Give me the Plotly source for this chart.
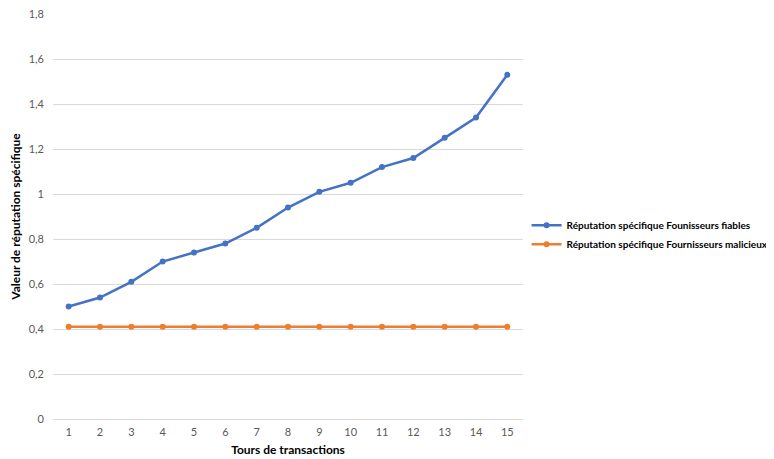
import plotly.graph_objects as go

# Data
tours = [str(i) for i in range(1, 16)]
fiables = [0.50, 0.54, 0.61, 0.70, 0.74, 0.78, 0.85, 0.94, 1.01, 1.05, 1.12, 1.16, 1.25, 1.34, 1.53]
malicieux = [0.41] * 15
y_ticks = [0, 0.2, 0.4, 0.6, 0.8, 1, 1.2, 1.4, 1.6, 1.8]
y_labels = ["0", "0,2", "0,4", "0,6", "0,8", "1", "1,2", "1,4", "1,6", "1,8"]

fig = go.Figure()
fig.add_trace(go.Scatter(
    x=tours, y=fiables, mode="lines+markers",
    name="<b>Réputation spécifique Founisseurs fiables</b>",
    line=dict(color="#4472C4", width=2.5), marker=dict(size=6, color="#4472C4"),
))
fig.add_trace(go.Scatter(
    x=tours, y=malicieux, mode="lines+markers",
    name="<b>Réputation spécifique Fournisseurs malicieux</b>",
    line=dict(color="#ED7D31", width=2.5), marker=dict(size=6, color="#ED7D31"),
))

# page body adds 8px offset, so the figure is sized to fit the window
fig.update_layout(
    width=766, height=451,
    margin=dict(l=45, r=251, t=6, b=40),
    paper_bgcolor="white", plot_bgcolor="white",
    font=dict(family="Lato, Liberation Sans, sans-serif", size=11, color="#595959"),
    legend=dict(xref="container", yref="container", x=0.677, y=0.497,
                yanchor="middle", xanchor="left",
                font=dict(size=10, color="#000000"), tracegroupgap=4,
                itemwidth=30),
)
fig.update_xaxes(
    type="category", range=[-0.5, 14.5], showgrid=False, automargin=False,
    showline=True, linecolor="#d9d9d9", ticks="", ticklabelstandoff=3,
    tickfont=dict(size=11, color="#595959"),
    title=dict(text="<b>Tours de transactions</b>", font=dict(size=12, color="#000000"), standoff=8),
)
fig.update_yaxes(
    range=[0, 1.8005], tickvals=y_ticks, ticktext=y_labels, automargin=False,
    showgrid=True, gridcolor="#d9d9d9", zeroline=False, ticklabeloverflow="allow",
    tickfont=dict(size=11, color="#595959"), ticks="", ticklen=0, ticklabelstandoff=8,
    title=dict(text="<b>Valeur de réputation spécifique</b>", font=dict(size=12, color="#000000"), standoff=10),
)

fig.write_html("out.html")
